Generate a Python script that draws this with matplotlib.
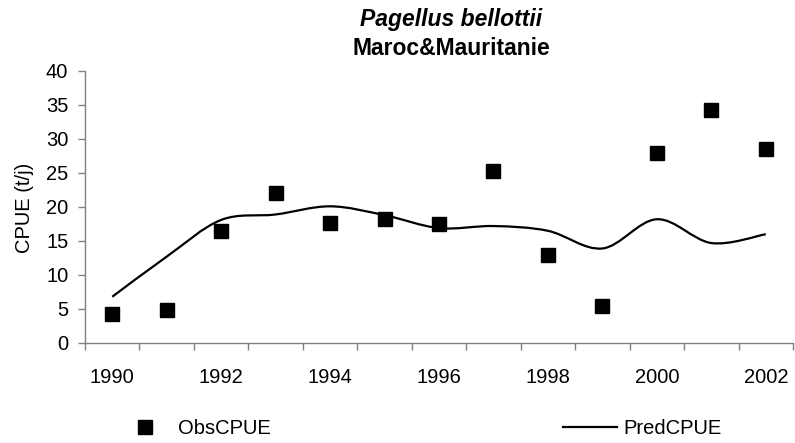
import numpy as np
import matplotlib
matplotlib.use("Agg")
import matplotlib.pyplot as plt
from matplotlib.path import Path
from matplotlib.patches import PathPatch
from matplotlib.lines import Line2D

plt.rcParams["font.family"] = ["Liberation Sans", "DejaVu Sans"]

# Données
years = [1990, 1991, 1992, 1993, 1994, 1995, 1996, 1997, 1998, 1999, 2000, 2001, 2002]
obs_cpue = [4.2, 4.85, 16.5, 22.0, 17.6, 18.2, 17.5, 25.3, 12.9, 5.4, 27.9, 34.2, 28.6]
pred_cpue = [6.8, 12.7, 18.1, 18.9, 20.1, 18.8, 16.9, 17.2, 16.5, 13.9, 18.2, 14.7, 16.0]

GRAY = "#808080"
FS = 14.5

fig = plt.figure(figsize=(7.95, 4.43), dpi=100)
ax = fig.add_axes([85 / 795, 1 - 343 / 443, 708 / 795, 272 / 443])

x = np.arange(len(years))

# Courbe lissée (style Excel) : segments de Bézier passant par les points
pts = np.column_stack([x, pred_cpue]).astype(float)
ext = np.vstack([pts[0], pts, pts[-1]])
verts = [tuple(pts[0])]
codes = [Path.MOVETO]
for i in range(len(pts) - 1):
    p0, p1, p2, p3 = ext[i], ext[i + 1], ext[i + 2], ext[i + 3]
    c1 = p1 + (p2 - p0) / 6
    c2 = p2 - (p3 - p1) / 6
    verts += [tuple(c1), tuple(c2), tuple(p2)]
    codes += [Path.CURVE4] * 3
ax.add_patch(PathPatch(Path(verts, codes), fill=False, edgecolor="black", lw=1.6, zorder=2))

ax.plot(x, obs_cpue, ls="none", marker="s", ms=10.5, color="black", zorder=3)

ax.set_xlim(-0.5, len(years) - 0.5)
ax.set_ylim(0, 40)
ax.set_yticks(np.arange(0, 41, 5))
ax.set_xticks(x[::2])
ax.set_xticklabels([str(y) for y in years[::2]])
ax.set_xticks(np.arange(-0.5, len(years), 1), minor=True)

ax.tick_params(axis="x", which="major", length=0, pad=18, labelsize=FS)
ax.tick_params(axis="x", which="minor", length=5, width=1, color=GRAY, direction="out")
ax.tick_params(axis="y", length=5, width=1, color=GRAY, direction="out", pad=7, labelsize=FS)

for s in ["top", "right"]:
    ax.spines[s].set_visible(False)
for s in ["left", "bottom"]:
    ax.spines[s].set_color(GRAY)
    ax.spines[s].set_linewidth(1)

fig.text(24 / 795, 1 - 208 / 443, "CPUE (t/j)", rotation=90, ha="center", va="center", fontsize=FS)

fig.text(451 / 795, 1 - 26 / 443, "Pagellus bellottii", ha="center", va="baseline",
         fontsize=16.5, fontweight="bold", fontstyle="italic")
fig.text(451 / 795, 1 - 55 / 443, "Maroc&Mauritanie", ha="center", va="baseline",
         fontsize=16.5, fontweight="bold")

handles = [
    Line2D([], [], ls="none", marker="s", ms=10.5, color="black"),
    Line2D([], [], color="black", lw=1.6),
]
fig.legend(handles, ["ObsCPUE", "PredCPUE"], loc="center", bbox_to_anchor=(0.528, 1 - 429 / 443),
           ncol=2, frameon=False, fontsize=FS, handlelength=2.7, handletextpad=0.3,
           columnspacing=14.5, borderaxespad=0)

fig.savefig("out.png", dpi=100)
plt.close(fig)
